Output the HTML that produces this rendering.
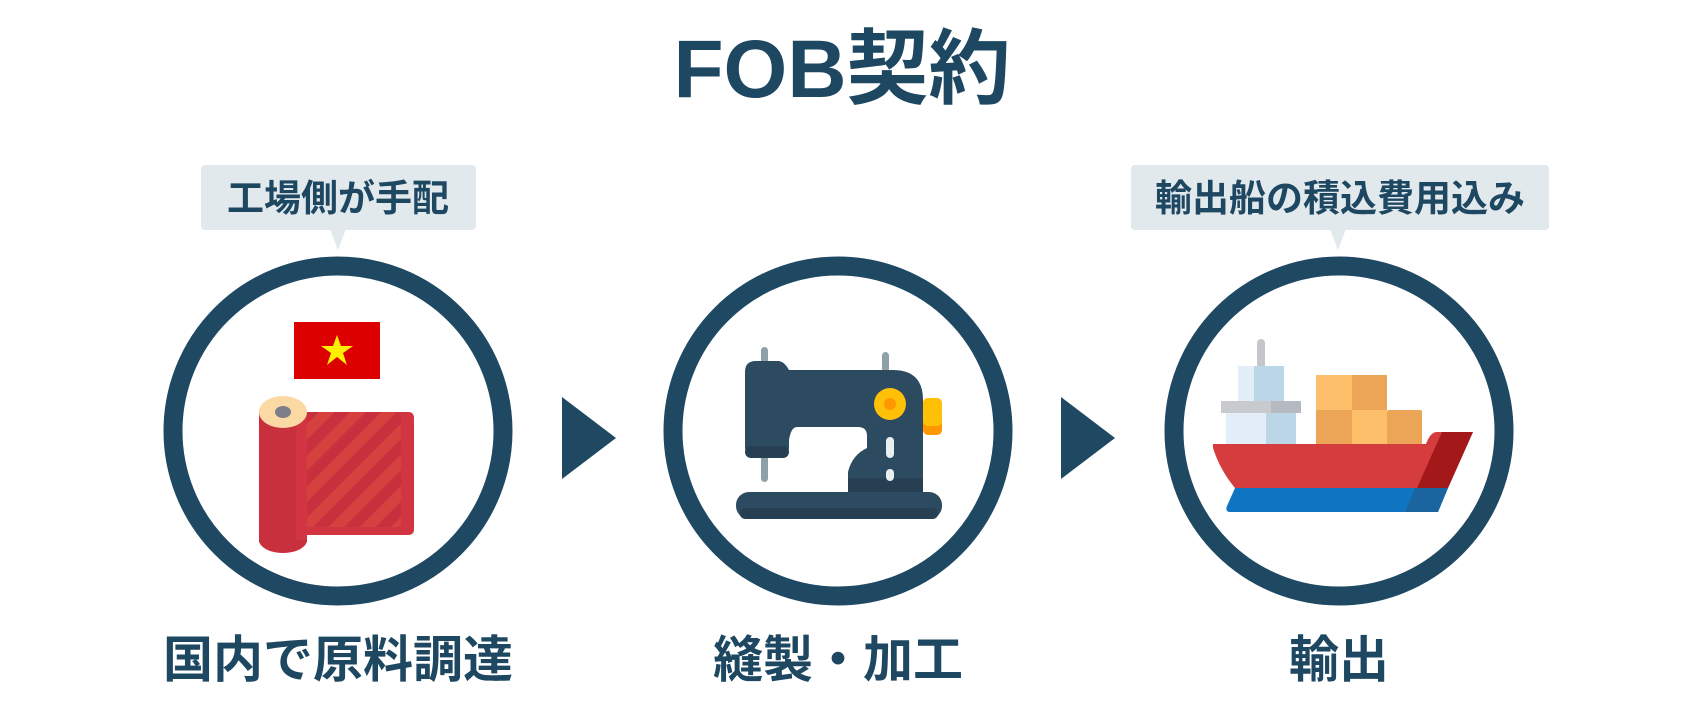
<!DOCTYPE html>
<html><head><meta charset="utf-8"><style>
html,body{margin:0;padding:0;background:#fff;}
body{width:1695px;height:714px;overflow:hidden;position:relative;}
svg{position:absolute;left:0;top:0;}
text{font-family:"Liberation Sans","Noto Sans CJK JP",sans-serif;font-weight:bold;fill:#1e4761;}
</style></head><body>
<svg width="1695" height="714" viewBox="0 0 1695 714" xmlns="http://www.w3.org/2000/svg">
<defs>
<pattern id="st" patternUnits="userSpaceOnUse" width="22" height="22" patternTransform="rotate(45)">
<rect width="22" height="22" fill="#d5413f"/><rect width="11" height="22" fill="#c8303e"/>
</pattern>
</defs>
<text x="842" y="97" font-size="82" text-anchor="middle">FOB契約</text>

<!-- bubbles -->
<rect x="201" y="165" width="275" height="65" rx="4" fill="#e2e9ed"/>
<polygon points="330,229 346,229 338,250" fill="#e2e9ed"/>
<text x="338" y="211" font-size="37" text-anchor="middle">工場側が手配</text>
<rect x="1131" y="165" width="418" height="65" rx="4" fill="#e2e9ed"/>
<polygon points="1330,229 1346,229 1338,250" fill="#e2e9ed"/>
<text x="1340" y="211" font-size="37" text-anchor="middle">輸出船の積込費用込み</text>

<!-- circles -->
<circle cx="338" cy="431" r="165" fill="none" stroke="#1f4863" stroke-width="19"/>
<circle cx="838" cy="431" r="165" fill="none" stroke="#1f4863" stroke-width="19"/>
<circle cx="1339" cy="431" r="165" fill="none" stroke="#1f4863" stroke-width="19"/>

<!-- arrows -->
<polygon points="562,397 616,438 562,479" fill="#1f4863"/>
<polygon points="1061,397 1115,438 1061,479" fill="#1f4863"/>

<!-- labels -->
<text x="338" y="677" font-size="50" text-anchor="middle">国内で原料調達</text>
<text x="838" y="677" font-size="50" text-anchor="middle">縫製・加工</text>
<text x="1339" y="677" font-size="50" text-anchor="middle">輸出</text>

<!-- fabric -->
<rect x="294" y="322" width="86" height="57" fill="#dd0000"/>
<polygon fill="#ffef00" points="337,335 341,346 353,346 343,353 347,365 337,357 327,365 331,353 321,346 333,346"/>
<rect x="300" y="412" width="114" height="123" rx="5" fill="#d23541"/>
<rect x="300" y="412" width="101" height="115" rx="4" fill="url(#st)"/>
<rect x="259" y="412" width="48" height="130" fill="#c8303e"/>
<ellipse cx="283" cy="540" rx="24" ry="13" fill="#c8303e"/>
<rect x="296" y="412" width="11" height="128" fill="#d23541"/>
<ellipse cx="283" cy="412" rx="24" ry="16" fill="#fbd9a4"/>
<ellipse cx="283" cy="412" rx="8" ry="6" fill="#7b7f88"/>

<!-- sewing machine -->
<rect x="761" y="347" width="7" height="135" rx="3.5" fill="#8fa1a8"/>
<rect x="882" y="352" width="7" height="20" rx="3.5" fill="#8fa1a8"/>
<path d="M745,372 Q745,361 756,361 L778,361 Q784,361 789,370 L893,370 Q923,370 923,400 L923,493 L848,493 L848,472 Q852,455 867,448 L867,436 Q867,427 858,427 L797,427 Q791,427 789,440 L789,447 Q789,458 778,458 L756,458 Q745,458 745,447 Z" fill="#2c4a60"/>
<rect x="745" y="446" width="44" height="12" rx="6" fill="#263f52"/>
<rect x="848" y="478" width="75" height="15" fill="#263f52"/>
<rect x="923" y="398" width="19" height="37" rx="5" fill="#ff9800"/>
<rect x="923" y="398" width="19" height="28" rx="5" fill="#ffc107"/>
<circle cx="890" cy="404" r="16" fill="#ffc107"/>
<circle cx="890" cy="404" r="6" fill="#ff9800"/>
<rect x="886" y="437" width="8" height="21" rx="4" fill="#e8eef2"/>
<rect x="886" y="469" width="8" height="12" rx="4" fill="#e8eef2"/>
<rect x="736" y="492" width="206" height="27" rx="13" fill="#2c4a60"/>
<rect x="740" y="508" width="198" height="11" rx="5" fill="#263f52"/>

<!-- ship -->
<rect x="1257" y="339" width="8" height="30" rx="4" fill="#c4c6c9"/>
<rect x="1238" y="366" width="46" height="36" fill="#bbd6e6"/>
<rect x="1238" y="366" width="16" height="36" fill="#e3eef8"/>
<rect x="1226" y="413" width="70" height="32" fill="#bbd6e6"/>
<rect x="1226" y="413" width="40" height="32" fill="#e3eef8"/>
<rect x="1221" y="401" width="80" height="12" fill="#b5bac0"/>
<rect x="1221" y="401" width="50" height="12" fill="#c9cacd"/>
<rect x="1316" y="375" width="36" height="35" fill="#fdbf6a"/>
<rect x="1352" y="375" width="35" height="35" fill="#eca557"/>
<rect x="1316" y="410" width="36" height="35" fill="#eca557"/>
<rect x="1352" y="410" width="35" height="35" fill="#fdbf6a"/>
<rect x="1387" y="410" width="35" height="35" rx="2" fill="#eca557"/>
<path d="M1213,444 L1426,444 Q1430,433 1436,432 L1473,432 L1448,488 L1235,488 Q1220,470 1213,448 Z" fill="#d43c3d"/>
<polygon points="1442,432 1473,432 1448,488 1417,488" fill="#a31818"/>
<path d="M1235,488 L1448,488 L1438,512 L1229,512 Q1225,511 1227,506 Z" fill="#1075c0"/>
<polygon points="1415,488 1448,488 1438,512 1405,512" fill="#1a64a0"/>
</svg>
</body></html>
